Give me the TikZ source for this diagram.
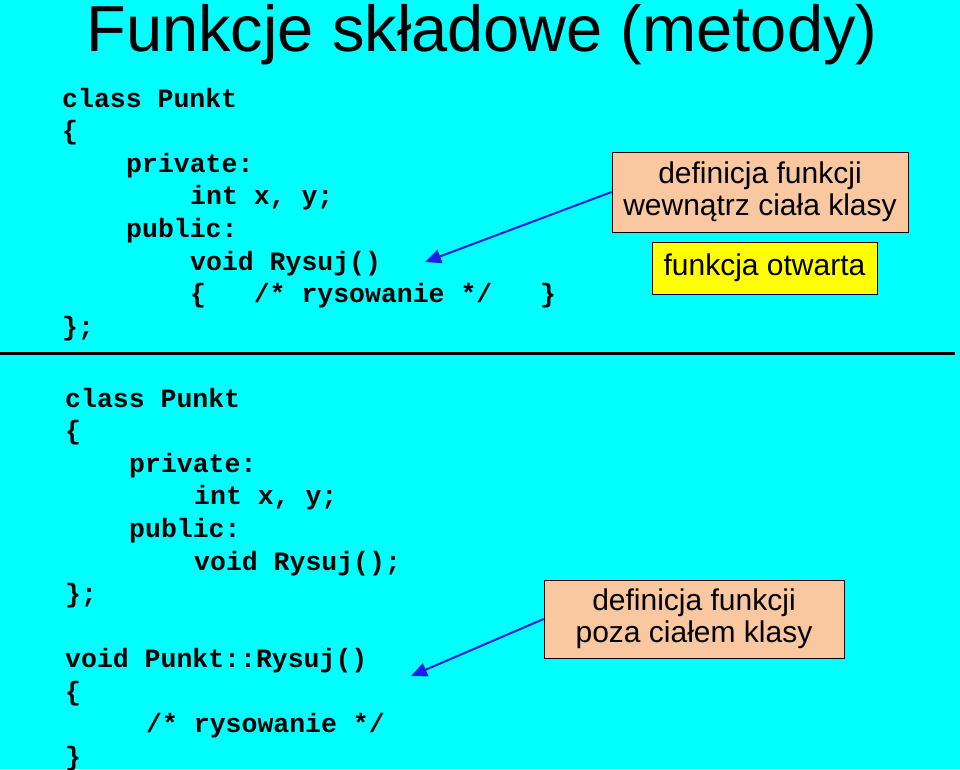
\documentclass[tikz,border=0pt]{standalone}
\usepackage{fontspec}
\setmainfont{Liberation Sans}
\newfontfamily\codefont{Liberation Mono}
\usetikzlibrary{arrows.meta}
\begin{document}
\begin{tikzpicture}[x=1pt,y=-1pt,
  code/.style={anchor=base west,inner sep=0,font=\codefont\bfseries\fontsize{26.5}{30}\selectfont},
  lbl/.style={draw=black,line width=0.8pt,align=center,font=\fontsize{30}{32}\selectfont,inner sep=0},
  arr/.style={draw={rgb,255:red,30;green,30;blue,230},line width=2pt,-{Triangle[length=16pt,width=14pt]}}]
\definecolor{bg}{RGB}{0,255,255}
\definecolor{orng}{RGB}{250,200,160}
\definecolor{yel}{RGB}{255,255,0}
\fill[bg] (0,0) rectangle (960,769);
\useasboundingbox (0,0) rectangle (960,769);
\node[anchor=center,font=\fontsize{65}{70}\selectfont] (title) at (482,35) {Funkcje składowe (metody)};
% top code
\node[code] (t1) at (62,107) {class Punkt};
\node[code] (t2) at (62,139.6) {\{};
\node[code] (t3) at (126,172.2) {private:};
\node[code] (t4) at (190,204.8) {int x, y;};
\node[code] (t5) at (126,237.4) {public:};
\node[code] (t6) at (190,270) {void Rysuj()};
\node[code] (t7) at (190,302.6) {\{\ \ \ /* rysowanie */\ \ \ \}};
\node[code] (t8) at (62,335.2) {\};};
\draw[line width=3pt] (0,353) -- (955,353);
% bottom code
\node[code] (b1) at (65,407) {class Punkt};
\node[code] (b2) at (65,439.6) {\{};
\node[code] (b3) at (129,472.2) {private:};
\node[code] (b4) at (194,504.8) {int x, y;};
\node[code] (b5) at (129,537.4) {public:};
\node[code] (b6) at (194,570) {void Rysuj();};
\node[code] (b7) at (65,602.6) {\};};
\node[code] (b8) at (65,667.4) {void Punkt::Rysuj()};
\node[code] (b9) at (65,700) {\{};
\node[code] (b10) at (146,732.6) {/* rysowanie */};
\node[code] (b11) at (65,765) {\}};
% boxes
\node[lbl,fill=orng,minimum width=296pt,minimum height=80pt] (d1) at (760,192) {definicja funkcji\\wewnątrz ciała klasy};
\node[lbl,fill=yel,minimum width=225pt,minimum height=52pt] (d2) at (764.5,268) {funkcja otwarta};
\node[lbl,fill=orng,minimum width=300pt,minimum height=78pt] (d3) at (694,619) {definicja funkcji\\poza ciałem klasy};
\coordinate (a1) at (425,262);
\coordinate (a2) at (411,676);
\draw[arr] (d1.west) -- (a1);
\draw[arr] (d3.west) -- (a2);
\end{tikzpicture}
\end{document}
